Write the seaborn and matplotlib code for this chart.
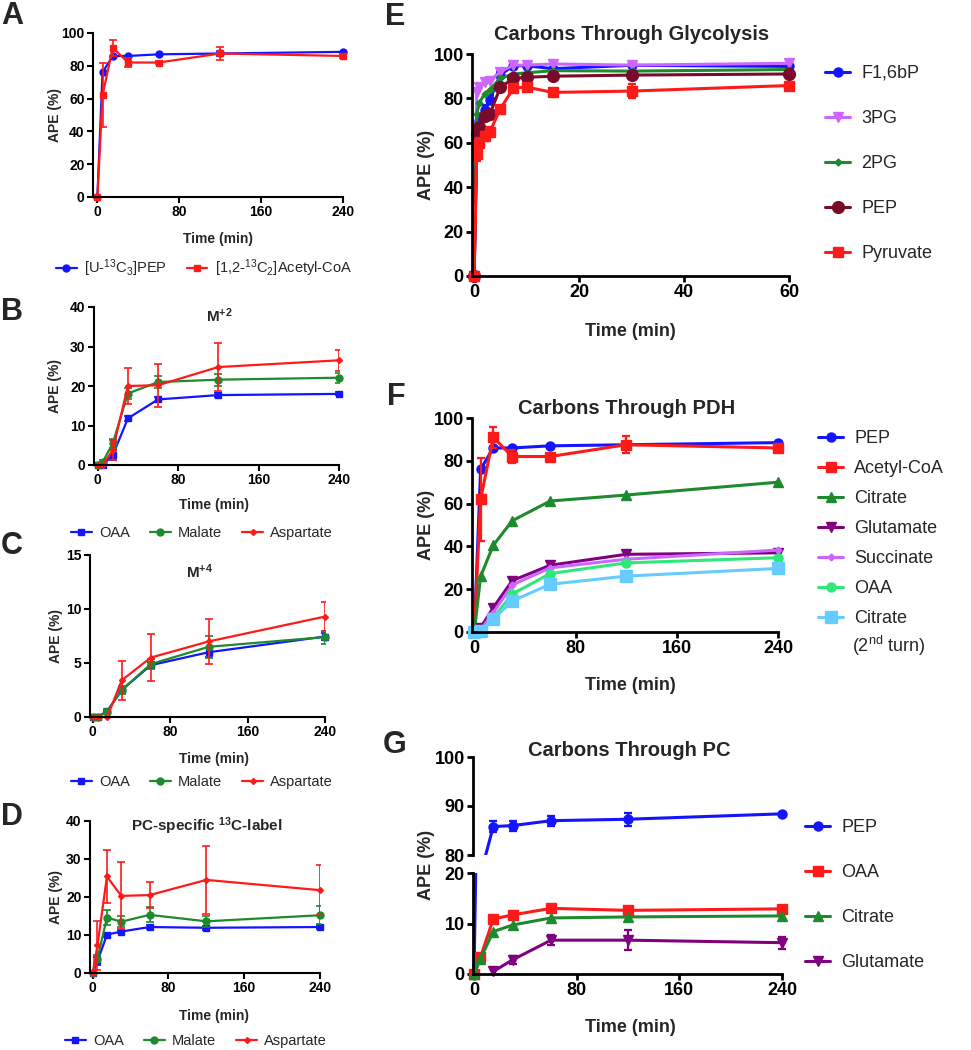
import numpy as np
import matplotlib
matplotlib.use('Agg')
import matplotlib.pyplot as plt
from matplotlib.transforms import Bbox, TransformedBbox
import seaborn as sns

sns.set_style('ticks')
plt.rcParams['font.family'] = ['Liberation Sans', 'DejaVu Sans']
plt.rcParams['mathtext.fontset'] = 'custom'
plt.rcParams['mathtext.rm'] = 'Liberation Sans'
plt.rcParams['mathtext.bf'] = 'Liberation Sans:bold'
plt.rcParams['mathtext.it'] = 'Liberation Sans:italic'

# ---- data ----
t_min = [0, 5, 15, 30, 60, 120, 240]
t_glyc = [0, 0.5, 1, 2, 3, 5, 7.5, 10, 15, 30, 60]

# A / F : labelled substrates
pep = [0, 76, 86, 86, 87, 87.5, 88.5]
pep_err = [0, 0, 0, 0, 0, 1.5, 0]
acoa = [0, 62, 91, 82, 82, 87.5, 86]
acoa_err = [0, 19.5, 5, 3, 1, 4, 1]

# B : M+2
b_oaa = [0, 0, 2.5, 11.8, 16.6, 17.7, 18.0]
b_oaa_err = [0, 0, 1.2, 0.7, 0.7, 0.6, 0.4]
b_mal = [0, 0.8, 5.5, 18.1, 21.0, 21.6, 22.1]
b_mal_err = [0, 0.5, 1.2, 1.5, 1.5, 1.5, 1.3]
b_asp = [0, 0, 3.8, 20.0, 20.2, 24.8, 26.5]
b_asp_err = [0, 0, 2.6, 4.6, 5.4, 6.0, 2.6]

# C : M+4
c_oaa = [0, 0, 0.55, 2.5, 4.8, 6.0, 7.45]
c_oaa_err = [0, 0, 0.1, 0.2, 0.3, 0.4, 0.3]
c_mal = [0, 0, 0.5, 2.5, 4.9, 6.5, 7.4]
c_mal_err = [0, 0, 0.2, 0.4, 0.5, 1.0, 0.6]
c_asp = [0, 0, 0, 3.4, 5.5, 7.0, 9.3]
c_asp_err = [0, 0, 0, 1.8, 2.2, 2.1, 1.35]

# D : PC-specific label
d_oaa = [0, 3.1, 10.1, 10.9, 12.1, 11.9, 12.1]
d_oaa_err = [0, 1.0, 0.5, 0.5, 0.6, 0.6, 0.6]
d_mal = [0, 3.8, 14.6, 13.5, 15.3, 13.6, 15.2]
d_mal_err = [0, 1.0, 2.0, 1.5, 2.0, 1.5, 2.4]
d_asp = [0, 7.3, 25.4, 20.3, 20.5, 24.5, 21.8]
d_asp_err = [0, 6.5, 7.1, 8.8, 3.5, 9.0, 6.5]

# E : glycolysis
e_f16bp = [0, 57, 70, 75, 79.5, 90.7, 94.7, 94.7, 93.4, 94.9, 94.4]
e_f16bp_err = [0, 3, 3, 2, 2, 1, 1, 0.5, 0.5, 0.5, 1]
e_3pg = [0, 83, 85, 87.5, 88, 92, 95, 95, 95.5, 95, 95.8]
e_2pg = [0, 73, 78, 82, 84, 89, 91, 91.5, 92.5, 92.3, 93]
e_pep = [0, 64, 67, 72, 73, 85, 89, 89.5, 90, 90.5, 91]
e_pyr = [0, 55, 60, 63, 65, 75.3, 84.7, 85.1, 82.7, 83.3, 85.8]
e_pyr_err = [0, 3, 2, 2, 2, 1.5, 1.5, 1.5, 1.5, 3, 1]

# F : PDH
f_cit = [0, 26, 40.5, 52, 61.2, 64, 70]
f_glu = [0, 2, 11.4, 24, 31.2, 36.3, 37]
f_suc = [0, 1, 9, 22, 30, 34, 38.3]
f_oaa = [0, 0.5, 6.6, 17.7, 27.3, 32.3, 34.7]
f_cit2 = [0, 0.3, 6, 14.5, 22.3, 26.1, 29.7]

# G : PC
g_pep = [0, 76, 85.8, 86, 87, 87.3, 88.4]
g_pep_err = [0, 0, 1.2, 1, 1, 1.3, 0]
g_oaa = [0, 3.3, 10.9, 11.7, 13, 12.6, 12.9]
g_cit = [0, 3.0, 8.4, 9.7, 11.1, 11.3, 11.5]
g_glu = [np.nan, np.nan, 0.5, 2.8, 6.7, 6.7, 6.2]
g_glu_err = [0, 0, 0, 0.8, 1.0, 2.0, 1.2]

BLUE = '#1414ff'
RED = '#ff1a1a'
GREEN = '#1e8a2e'
MAROON = '#7a0a2a'
VIOLET = '#cc66ff'
PURPLE = '#800080'
SPRING = '#2ee87a'
LBLUE = '#66ccff'

W, H = 971, 1050
fig = plt.figure(figsize=(W / 100, H / 100), dpi=100)


def box(x0, y0, x1, y1):
    return [x0 / W, 1 - y1 / H, (x1 - x0) / W, (y1 - y0) / H]


def ftext(x, y, s, **kw):
    kw.setdefault('ha', 'center')
    kw.setdefault('va', 'center')
    fig.text(x / W, 1 - y / H, s, **kw)


def trace(ax, t, v, err, color, marker, ms, lw, label, cap=3):
    pts = [(a, b) for a, b in zip(t, v) if not np.isnan(b)]
    tt = [p[0] for p in pts]
    vv = [p[1] for p in pts]
    sns.lineplot(x=tt, y=vv, ax=ax, color=color, marker=marker, markersize=ms,
                 linewidth=lw, markeredgecolor=color, markeredgewidth=1,
                 label=label, errorbar=None, clip_on=False)
    if err is not None:
        keep = [i for i, e in enumerate(err) if e > 0 and not np.isnan(v[i])]
        if keep:
            ax.errorbar([t[i] for i in keep], [v[i] for i in keep],
                        yerr=[err[i] for i in keep], fmt='none', ecolor=color,
                        elinewidth=lw * 0.75, capsize=cap, capthick=lw * 0.75)


def style(ax, xlim, xt, ylim, yt, fs, lw=1.5, xticks=True):
    ax.set_xlim(*xlim)
    ax.set_ylim(*ylim)
    ax.set_xlabel('')
    ax.set_ylabel('')
    ax.set_yticks(yt, labels=[str(v) for v in yt], fontweight='bold', fontsize=fs)
    if xticks:
        ax.set_xticks(xt, labels=[str(v) for v in xt], fontweight='bold', fontsize=fs)
    else:
        ax.set_xticks([])
    sns.despine(ax=ax)
    if not xticks:
        ax.spines['bottom'].set_visible(False)
    for s in ('left', 'bottom'):
        ax.spines[s].set_linewidth(lw)
        ax.spines[s].set_color('black')
    ax.tick_params(direction='out', length=4, width=lw, pad=2, colors='black')
    ax.set_facecolor('white')


def small_legend(ax, x, y):
    ax.legend(loc='center', bbox_to_anchor=(x / W, 1 - y / H),
              bbox_transform=fig.transFigure, ncol=3, frameon=False,
              fontsize=10.5, handlelength=1.4, handletextpad=0.5,
              columnspacing=1.4, borderpad=0)


def big_legend(ax, x, y, spacing, handles=None, labels=None):
    if handles is None:
        handles, labels = ax.get_legend_handles_labels()
    ax.legend(handles, labels, loc='upper left', bbox_to_anchor=(x / W, 1 - y / H),
              bbox_transform=fig.transFigure, frameon=False, fontsize=13,
              handlelength=1.4, handletextpad=0.6, labelspacing=spacing,
              borderpad=0, borderaxespad=0)


# ---- Panel A ----
axA = fig.add_axes(box(93, 33, 343, 197))
trace(axA, t_min, pep, pep_err, BLUE, 'o', 5, 1.6, r'[U-$^{13}$C$_3$]PEP')
trace(axA, t_min, acoa, acoa_err, RED, 's', 5, 1.6, r'[1,2-$^{13}$C$_2$]Acetyl-CoA')
style(axA, (-4.3, 240), [0, 80, 160, 240], (0, 100), [0, 20, 40, 60, 80, 100], 10)
small_legend(axA, 204, 268)

# ---- Panel B ----
axB = fig.add_axes(box(94, 307, 339, 465))
trace(axB, t_min, b_oaa, b_oaa_err, BLUE, 's', 5, 1.6, 'OAA')
trace(axB, t_min, b_mal, b_mal_err, GREEN, 'o', 5, 1.6, 'Malate')
trace(axB, t_min, b_asp, b_asp_err, RED, 'D', 3, 1.6, 'Aspartate')
style(axB, (-3.7, 240), [0, 80, 160, 240], (0, 40), [0, 10, 20, 30, 40], 10)
small_legend(axB, 202, 533)

# ---- Panel C ----
axC = fig.add_axes(box(90, 555, 325, 717))
trace(axC, t_min, c_oaa, c_oaa_err, BLUE, 's', 5, 1.6, 'OAA')
trace(axC, t_min, c_mal, c_mal_err, GREEN, 'o', 5, 1.6, 'Malate')
trace(axC, t_min, c_asp, c_asp_err, RED, 'D', 3, 1.6, 'Aspartate')
style(axC, (-2.8, 240), [0, 80, 160, 240], (0, 15), [0, 5, 10, 15], 10)
small_legend(axC, 202, 782)

# ---- Panel D ----
axD = fig.add_axes(box(90, 821, 320, 973))
trace(axD, t_min, d_oaa, d_oaa_err, BLUE, 's', 5, 1.6, 'OAA')
trace(axD, t_min, d_mal, d_mal_err, GREEN, 'o', 5, 1.6, 'Malate')
trace(axD, t_min, d_asp, d_asp_err, RED, 'D', 3, 1.6, 'Aspartate')
style(axD, (-2.9, 240), [0, 80, 160, 240], (0, 40), [0, 10, 20, 30, 40], 10)
small_legend(axD, 196, 1041)

# ---- Panel E ----
axE = fig.add_axes(box(472, 54, 789, 276))
trace(axE, t_glyc, e_f16bp, e_f16bp_err, BLUE, 'o', 6.5, 2.2, 'F1,6bP')
trace(axE, t_glyc, e_3pg, None, VIOLET, 'v', 6.5, 2.2, '3PG')
trace(axE, t_glyc, e_2pg, None, GREEN, 'D', 3.5, 2.2, '2PG')
trace(axE, t_glyc, e_pep, None, MAROON, 'o', 8.5, 2.2, 'PEP')
trace(axE, t_glyc, e_pyr, e_pyr_err, RED, 's', 6.5, 2.2, 'Pyruvate')
style(axE, (-0.4, 60), [0, 20, 40, 60], (0, 100), [0, 20, 40, 60, 80, 100], 13, lw=2)
big_legend(axE, 825, 65, 1.55)

# ---- Panel F ----
axF = fig.add_axes(box(472, 418, 778, 632))
trace(axF, t_min, pep, pep_err, BLUE, 'o', 6.5, 2.2, 'PEP')
trace(axF, t_min, acoa, acoa_err, RED, 's', 6.5, 2.2, 'Acetyl-CoA')
trace(axF, t_min, f_cit, None, GREEN, '^', 6.5, 2.2, 'Citrate')
trace(axF, t_min, f_glu, None, PURPLE, 'v', 6.5, 2.2, 'Glutamate')
trace(axF, t_min, f_suc, None, VIOLET, 'D', 3.5, 2.2, 'Succinate')
trace(axF, t_min, f_oaa, None, SPRING, 'o', 6.5, 2.2, 'OAA')
trace(axF, t_min, f_cit2, None, LBLUE, 's', 8, 2.2, 'Citrate')
style(axF, (-1.8, 240), [0, 80, 160, 240], (0, 100), [0, 20, 40, 60, 80, 100], 13, lw=2)
big_legend(axF, 818, 430, 0.72)
ftext(852, 646, r'(2$^{\mathrm{nd}}$ turn)', fontsize=13, ha='left')

# ---- Panel G (broken y axis) ----
axGu = fig.add_axes(box(473, 757, 782, 855))
axGl = fig.add_axes(box(473, 873, 782, 974))
for ax in (axGu, axGl):
    trace(ax, t_min, g_pep, g_pep_err, BLUE, 'o', 6.5, 2.2, 'PEP')
    trace(ax, t_min, g_oaa, None, RED, 's', 6.5, 2.2, 'OAA')
    trace(ax, t_min, g_cit, None, GREEN, '^', 6.5, 2.2, 'Citrate')
    trace(ax, t_min, g_glu, g_glu_err, PURPLE, 'v', 6.5, 2.2, 'Glutamate')
style(axGu, (-0.8, 240), [], (80, 100), [80, 90, 100], 13, lw=2, xticks=False)
style(axGl, (-0.8, 240), [0, 80, 160, 240], (0, 20), [0, 10, 20], 13, lw=2)
clip_u = TransformedBbox(Bbox([[-0.05, 0.0], [1.06, 1.1]]), axGu.transAxes)
clip_l = TransformedBbox(Bbox([[-0.05, -0.12], [1.06, 1.0]]), axGl.transAxes)
for ax, cb in ((axGu, clip_u), (axGl, clip_l)):
    for art in list(ax.lines) + list(ax.collections):
        art.set_clip_on(True)
        art.set_clip_path(None)
        art.set_clip_box(cb)
if axGl.get_legend() is not None:
    axGl.get_legend().remove()
hG, lG = axGl.get_legend_handles_labels()
big_legend(axGu, 805, 819, 1.55, hG, lG)

# ---- axis labels, titles, panel letters ----
for y in (239, 505, 759, 1016):
    ftext(218 if y == 239 else 214, y, 'Time (min)', fontsize=10, fontweight='bold')
for x, y in ((55, 115), (55, 386), (56, 636), (56, 897)):
    ftext(x, y, 'APE (%)', fontsize=10, fontweight='bold', rotation=90)
for y in (331, 685, 1027):
    ftext(630, y, 'Time (min)', fontsize=13, fontweight='bold')
for y in (165, 525, 865):
    ftext(426, y, 'APE (%)', fontsize=13, fontweight='bold', rotation=90)

ftext(219, 316, r'M$^{\mathbf{+2}}$', fontsize=11, fontweight='bold')
ftext(199, 572, r'M$^{\mathbf{+4}}$', fontsize=11, fontweight='bold')
ftext(207, 826, r'PC-specific $^{\mathbf{13}}$C-label', fontsize=11, fontweight='bold')
ftext(632, 35, 'Carbons Through Glycolysis', fontsize=14.5, fontweight='bold')
ftext(627, 408, 'Carbons Through PDH', fontsize=14.5, fontweight='bold')
ftext(629, 750, 'Carbons Through PC', fontsize=14.5, fontweight='bold')

for s, x, y in (('A', 12, 16), ('B', 12, 312), ('C', 12, 546), ('D', 12, 817),
                ('E', 395, 17), ('F', 396, 397), ('G', 395, 745)):
    ftext(x, y, s, fontsize=22, fontweight='bold')

fig.savefig('out.png', dpi=100, facecolor='white')
